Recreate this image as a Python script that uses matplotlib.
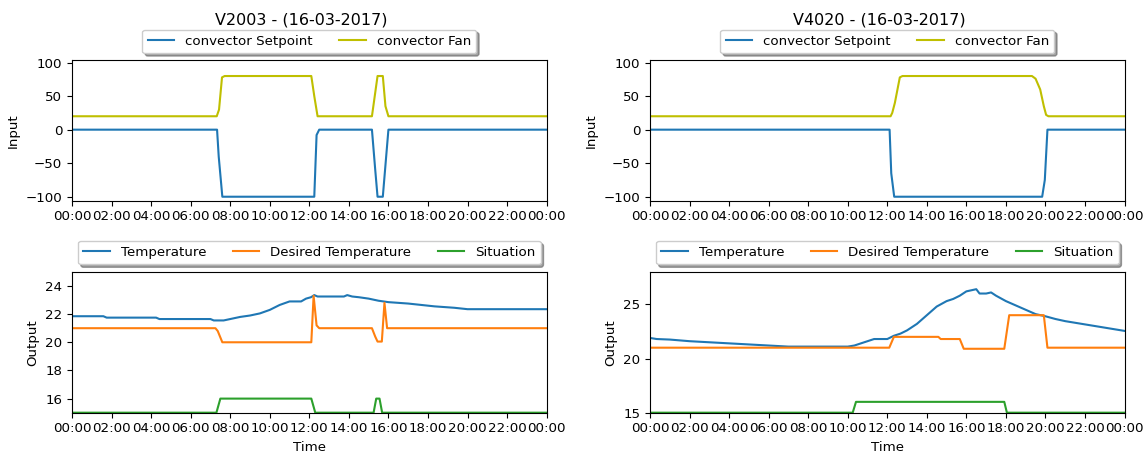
import matplotlib
matplotlib.use("Agg")
import matplotlib.pyplot as plt
import matplotlib.dates as mdates
import pandas as pd

plt.rcParams["font.size"] = 9.6

day = pd.Timestamp("2017-03-16")

# ---- V2003 : inputs ----
v2003_setpoint_t = ["00:00", "07:20", "07:25", "07:36", "12:15", "12:22", "12:30",
                    "15:10", "15:20", "15:27", "15:43", "16:00", "24:00"]
v2003_setpoint = [0, 0, -40, -100, -100, -8, 0, 0, -60, -100, -100, 0, 0]

v2003_fan_t = ["00:00", "07:19", "07:26", "07:35", "07:43", "12:06", "12:15", "12:25",
               "15:10", "15:27", "15:43", "15:51", "16:00", "24:00"]
v2003_fan = [20, 20, 30, 78, 80, 80, 50, 20, 20, 80, 80, 35, 20, 20]

# ---- V2003 : outputs ----
v2003_temp_t = ["00:00", "01:35", "01:45", "04:15", "04:25", "07:00", "07:10", "07:40",
                "08:00", "08:30", "09:00", "09:30", "10:00", "10:30", "11:00", "11:35",
                "11:50", "12:05", "12:15", "12:25", "13:45", "13:55", "14:10", "14:30",
                "15:00", "15:30", "16:00", "16:30", "17:00", "17:40", "18:20", "19:20",
                "20:00", "24:00"]
v2003_temp = [21.85, 21.85, 21.75, 21.75, 21.65, 21.65, 21.55, 21.55,
              21.65, 21.8, 21.9, 22.05, 22.3, 22.65, 22.9, 22.9,
              23.1, 23.2, 23.35, 23.25, 23.25, 23.35, 23.25, 23.2,
              23.1, 22.95, 22.85, 22.8, 22.75, 22.65, 22.55, 22.45,
              22.35, 22.35]

v2003_desired_t = ["00:00", "07:15", "07:22", "07:36", "12:06", "12:13", "12:22", "12:30",
                   "15:10", "15:20", "15:27", "15:40", "15:48", "15:56", "24:00"]
v2003_desired = [21, 21, 20.8, 20, 20, 23.3, 21.2, 21, 21, 20.4, 20.05, 20.05, 22.8, 21, 21]

v2003_situation_t = ["00:00", "07:18", "07:30", "12:06", "12:18", "15:15", "15:23",
                     "15:33", "15:41", "24:00"]
v2003_situation = [15, 15, 16, 16, 15, 15, 16, 16, 15, 15]

# ---- V4020 : inputs ----
v4020_setpoint_t = ["00:00", "12:07", "12:12", "12:21", "19:50", "19:58", "20:06", "24:00"]
v4020_setpoint = [0, 0, -65, -100, -100, -75, 0, 0]

v4020_fan_t = ["00:00", "12:10", "12:15", "12:23", "12:38", "12:46", "19:19", "19:30",
               "19:44", "19:55", "20:02", "20:09", "24:00"]
v4020_fan = [20, 20, 25, 40, 78, 80, 80, 76, 60, 35, 22, 20, 20]

# ---- V4020 : outputs ----
v4020_temp_t = ["00:00", "00:20", "01:00", "02:00", "03:00", "04:00", "05:00", "06:00",
                "07:00", "10:00", "10:20", "10:40", "11:00", "11:20", "12:00", "12:20",
                "12:40", "13:00", "13:30", "14:00", "14:30", "15:00", "15:20", "15:40",
                "16:00", "16:30", "16:40", "17:00", "17:15", "17:30", "18:00", "18:30",
                "19:00", "19:30", "20:00", "20:30", "21:00", "22:00", "23:00", "24:00"]
v4020_temp = [21.9, 21.8, 21.75, 21.6, 21.5, 21.4, 21.3, 21.2,
              21.1, 21.1, 21.2, 21.4, 21.6, 21.8, 21.8, 22.1,
              22.3, 22.6, 23.2, 24.0, 24.8, 25.3, 25.5, 25.8,
              26.2, 26.4, 26.0, 26.0, 26.1, 25.8, 25.3, 24.9,
              24.5, 24.1, 23.9, 23.65, 23.45, 23.15, 22.85, 22.55]

v4020_desired_t = ["00:00", "12:06", "12:20", "14:35", "14:42", "15:40", "15:52",
                   "17:55", "18:10", "19:55", "20:06", "24:00"]
v4020_desired = [21, 21, 22, 22, 21.8, 21.8, 20.9, 20.9, 24, 24, 21, 21]

v4020_situation_t = ["00:00", "10:15", "10:25", "17:55", "18:03", "24:00"]
v4020_situation = [15, 15, 16, 16, 15, 15]


def to_time(labels):
    return day + pd.to_timedelta([s + ":00" for s in labels])


panels = [
    ("V2003 - (16-03-2017)",
     (v2003_setpoint_t, v2003_setpoint), (v2003_fan_t, v2003_fan),
     (v2003_temp_t, v2003_temp), (v2003_desired_t, v2003_desired),
     (v2003_situation_t, v2003_situation), (15, 25), [16, 18, 20, 22, 24]),
    ("V4020 - (16-03-2017)",
     (v4020_setpoint_t, v4020_setpoint), (v4020_fan_t, v4020_fan),
     (v4020_temp_t, v4020_temp), (v4020_desired_t, v4020_desired),
     (v4020_situation_t, v4020_situation), (15, 28), [15, 20, 25]),
]

fig, axes = plt.subplots(2, 2, figsize=(11.44, 4.54), dpi=100)
fig.subplots_adjust(left=0.063, right=0.983, top=0.868, bottom=0.091,
                    wspace=0.218, hspace=0.505)

for col, (title, sp, fan, temp, desired, sit, out_lim, out_ticks) in enumerate(panels):
    ax_in = axes[0, col]
    ax_out = axes[1, col]

    ax_in.plot(to_time(sp[0]), sp[1], color="C0", label="convector Setpoint")
    ax_in.plot(to_time(fan[0]), fan[1], color="y", label="convector Fan")
    ax_in.set_ylim(-106, 104)
    ax_in.set_yticks([-100, -50, 0, 50, 100])
    ax_in.set_ylabel("Input")
    ax_in.set_title(title, x=0.484, y=1.19)
    ax_in.legend(loc="lower center", bbox_to_anchor=(0.5, 1.0), ncol=2,
                 shadow=True)

    ax_out.plot(to_time(temp[0]), temp[1], color="C0", label="Temperature")
    ax_out.plot(to_time(desired[0]), desired[1], color="C1", label="Desired Temperature")
    ax_out.plot(to_time(sit[0]), sit[1], color="C2", label="Situation")
    ax_out.set_ylim(*out_lim)
    ax_out.set_yticks(out_ticks)
    ax_out.set_ylabel("Output")
    ax_out.set_xlabel("Time")
    ax_out.legend(loc="lower center", bbox_to_anchor=(0.5, 1.005), ncol=3,
                  shadow=True)

    for ax in (ax_in, ax_out):
        ax.set_xlim(day, day + pd.Timedelta(days=1))
        ax.xaxis.set_major_locator(mdates.HourLocator(byhour=range(0, 24, 2)))
        ax.xaxis.set_major_formatter(mdates.DateFormatter("%H:%M"))

fig.savefig("out.png", dpi=100)
